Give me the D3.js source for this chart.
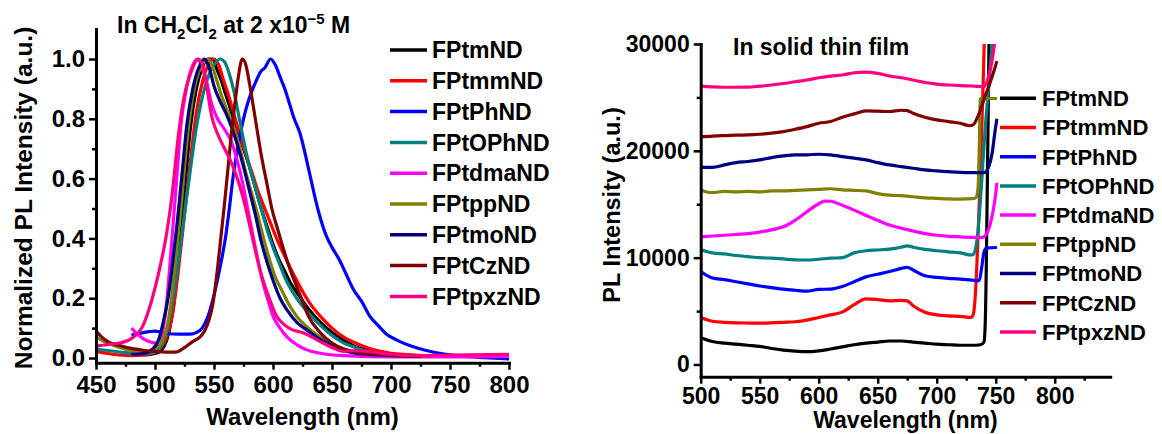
<!DOCTYPE html>
<html><head><meta charset="utf-8">
<script src="https://cdn.jsdelivr.net/npm/d3@7"></script>
<style>
html,body{margin:0;padding:0;background:#fff;}
svg text{font-family:"Liberation Sans",Arial,Helvetica,sans-serif;font-weight:bold;fill:#000;}
</style></head>
<body><svg id="c" width="1162" height="434"></svg>
<script>
// ---------- DATA ----------
const seriesNames = ["FPtmND","FPtmmND","FPtPhND","FPtOPhND","FPtdmaND","FPtppND","FPtmoND","FPtCzND","FPtpxzND"];
const seriesColors = ["#000000","#ff0000","#0000ff","#008080","#ff00ff","#808000","#000080","#800000","#ff0080"];

// Left panel: normalized PL in CH2Cl2  [wavelength nm, intensity]
const solFPtmND = [[480,0.01],[490,0.01],[500,0.015],[505,0.025],[510,0.06],[514,0.13],[518,0.25],[522,0.42],[526,0.6],[530,0.77],[535,0.9],[540,0.97],[545,1.0],[549,1.0],[552,0.97],[556,0.93],[560,0.88],[565,0.82],[570,0.76],[575,0.7],[580,0.64],[585,0.57],[590,0.5],[595,0.44],[600,0.38],[605,0.33],[610,0.29],[615,0.25],[620,0.22],[630,0.165],[640,0.12],[650,0.085],[660,0.058],[670,0.038],[680,0.026],[690,0.016],[700,0.011],[720,0.006],[750,0.005],[800,0.005]];
const solFPtmmND = [[450,0.022],[460,0.015],[470,0.01],[480,0.008],[490,0.01],[500,0.02],[505,0.035],[510,0.07],[515,0.15],[520,0.3],[525,0.48],[530,0.66],[535,0.82],[540,0.92],[545,0.98],[550,1.0],[554,0.98],[558,0.93],[563,0.87],[568,0.8],[573,0.73],[578,0.67],[583,0.61],[588,0.55],[593,0.5],[598,0.45],[603,0.4],[610,0.34],[620,0.26],[630,0.19],[640,0.14],[650,0.1],[660,0.07],[670,0.05],[680,0.034],[690,0.023],[700,0.016],[710,0.012],[720,0.01],[740,0.008],[760,0.007]];
const solFPtPhND = [[480,0.077],[485,0.08],[490,0.085],[495,0.088],[500,0.09],[505,0.087],[510,0.082],[520,0.08],[530,0.08],[535,0.085],[540,0.1],[545,0.14],[550,0.21],[555,0.3],[560,0.41],[563,0.5],[566,0.6],[570,0.7],[575,0.8],[580,0.87],[585,0.92],[590,0.96],[593,0.97],[598,1.0],[602,0.98],[606,0.94],[610,0.9],[614,0.85],[618,0.8],[623,0.75],[628,0.67],[632,0.6],[636,0.53],[640,0.47],[645,0.41],[650,0.37],[656,0.33],[662,0.28],[668,0.23],[675,0.19],[682,0.14],[690,0.105],[696,0.08],[705,0.06],[717,0.04],[730,0.025],[745,0.013],[760,0.006],[780,0.001],[800,-0.003]];
const solFPtOPhND = [[450,0.03],[460,0.025],[470,0.02],[480,0.016],[490,0.015],[500,0.02],[505,0.04],[510,0.09],[515,0.19],[520,0.33],[525,0.48],[530,0.63],[535,0.77],[540,0.87],[545,0.94],[550,0.98],[555,1.0],[559,0.99],[563,0.95],[567,0.89],[571,0.81],[575,0.73],[580,0.64],[585,0.57],[590,0.5],[595,0.43],[600,0.37],[605,0.32],[610,0.27],[620,0.2],[630,0.15],[640,0.11],[650,0.075],[660,0.05],[670,0.035],[680,0.022],[690,0.015],[700,0.01],[720,0.006],[740,0.005]];
const solFPtdmaND = [[480,0.1],[485,0.08],[490,0.065],[495,0.055],[500,0.05],[504,0.06],[507,0.1],[510,0.19],[513,0.33],[516,0.48],[519,0.63],[522,0.78],[526,0.89],[531,0.97],[536,1.0],[540,0.97],[544,0.92],[548,0.85],[553,0.8],[558,0.77],[564,0.73],[569,0.67],[574,0.59],[578,0.51],[582,0.43],[586,0.35],[591,0.26],[596,0.19],[600,0.14],[606,0.1],[612,0.07],[620,0.045],[628,0.028],[640,0.016],[660,0.008],[700,0.004],[750,0.004],[800,0.005]];
const solFPtppND = [[450,0.07],[460,0.05],[470,0.035],[480,0.025],[490,0.02],[500,0.03],[505,0.05],[510,0.1],[514,0.2],[518,0.35],[522,0.5],[526,0.68],[530,0.82],[535,0.93],[540,0.98],[545,1.0],[549,0.97],[553,0.92],[557,0.87],[562,0.82],[567,0.77],[572,0.7],[577,0.62],[582,0.55],[587,0.48],[592,0.4],[597,0.33],[602,0.27],[607,0.23],[612,0.19],[620,0.14],[630,0.1],[640,0.07],[650,0.045],[660,0.03],[670,0.02],[690,0.01],[720,0.006]];
const solFPtmoND = [[480,0.012],[490,0.015],[498,0.03],[503,0.06],[507,0.12],[511,0.2],[515,0.32],[519,0.46],[523,0.62],[527,0.78],[532,0.9],[537,0.97],[542,1.0],[546,0.97],[550,0.91],[555,0.86],[560,0.82],[566,0.76],[570,0.71],[575,0.64],[580,0.56],[585,0.48],[590,0.39],[595,0.32],[600,0.26],[606,0.2],[612,0.16],[620,0.12],[630,0.09],[640,0.062],[650,0.04],[660,0.024],[670,0.016],[690,0.01],[720,0.005]];
const solFPtCzND = [[450,0.09],[455,0.07],[460,0.055],[470,0.042],[480,0.032],[490,0.026],[500,0.022],[510,0.02],[518,0.02],[525,0.035],[532,0.055],[538,0.07],[542,0.09],[546,0.13],[549,0.18],[553,0.3],[556,0.41],[559,0.52],[562,0.64],[565,0.76],[568,0.86],[571,0.95],[574,1.0],[577,0.98],[580,0.92],[585,0.8],[590,0.68],[595,0.58],[599,0.5],[604,0.43],[610,0.35],[615,0.29],[620,0.24],[625,0.19],[630,0.14],[640,0.085],[650,0.05],[660,0.03],[670,0.02],[680,0.015],[700,0.01],[726,0.005]];
const solFPtpxzND = [[450,0.04],[460,0.045],[470,0.05],[480,0.065],[490,0.11],[497,0.19],[504,0.3],[510,0.42],[514,0.53],[520,0.75],[524,0.86],[530,0.95],[537,1.0],[541,0.97],[545,0.88],[548,0.81],[553,0.75],[559,0.7],[564,0.66],[568,0.62],[573,0.56],[577,0.5],[581,0.43],[585,0.36],[590,0.28],[595,0.22],[603,0.14],[610,0.11],[616,0.095],[625,0.085],[634,0.068],[640,0.055],[650,0.035],[660,0.022],[670,0.025],[680,0.022],[700,0.012],[720,0.008],[750,0.01],[800,0.012]];

// Right panel: PL intensity in solid thin film [wavelength nm, counts]
const filmFPtmND = [[500,2500],[510,2150],[520,2000],[530,1900],[540,1800],[550,1700],[560,1500],[570,1350],[580,1250],[590,1200],[600,1280],[610,1450],[620,1650],[630,1850],[640,2000],[650,2100],[660,2200],[670,2200],[680,2100],[690,2000],[700,1900],[710,1850],[720,1800],[730,1800],[737,1850],[740,2100],[741,3500],[742,9000],[743,18000],[744,27000],[744.5,32000]];
const filmFPtmmND = [[500,4400],[510,4050],[520,3950],[530,3900],[540,3880],[550,3870],[560,3900],[570,3950],[580,4000],[590,4150],[600,4400],[610,4650],[620,4900],[630,5600],[640,6150],[650,6080],[660,5950],[670,6000],[675,5950],[680,5500],[690,4900],[700,4650],[710,4550],[720,4500],[729,4400],[731,4700],[733,7000],[735,12000],[737,18000],[739,25000],[740.5,31000]];
const filmFPtPhND = [[500,8700],[510,8100],[520,7950],[530,7750],[540,7550],[550,7350],[560,7200],[570,7050],[580,6950],[590,6870],[600,7030],[610,7060],[620,7300],[630,7750],[640,8200],[650,8450],[660,8700],[670,9000],[675,9100],[680,8850],[690,8300],[700,8150],[710,8070],[720,8000],[730,7900],[736,7850],[738,9000],[740,10500],[742,10900],[751,10950]];
const filmFPtOPhND = [[500,10750],[510,10450],[520,10350],[530,10200],[540,10100],[550,10000],[560,9950],[570,9880],[580,9800],[590,9780],[600,9850],[610,9950],[620,10000],[630,10450],[640,10650],[650,10720],[660,10800],[670,10980],[675,11100],[680,10980],[690,10780],[700,10650],[710,10550],[720,10450],[729,10250],[731,10300],[733,10900],[735,12500],[738,17000],[741,22000],[744,26000],[747,30000],[748,31000]];
const filmFPtdmaND = [[500,11950],[520,12100],[540,12250],[560,12600],[570,12900],[580,13500],[590,14300],[600,15050],[605,15300],[610,15280],[620,14900],[630,14450],[640,13950],[650,13500],[660,13050],[670,12750],[680,12500],[690,12250],[700,12100],[710,12000],[720,11950],[730,11900],[739,11900],[742,12200],[745,13000],[748,14500],[750,16000],[751,17000]];
const filmFPtppND = [[500,16400],[505,16150],[510,16100],[520,16200],[530,16150],[540,16200],[550,16150],[560,16250],[570,16250],[580,16300],[590,16350],[600,16400],[610,16450],[620,16350],[630,16300],[640,16250],[650,16000],[660,15850],[670,15800],[680,15700],[690,15600],[700,15550],[710,15500],[720,15480],[730,15520],[733,15600],[735,16500],[736,20000],[737,24900],[751,24900]];
const filmFPtmoND = [[500,18500],[505,18450],[510,18450],[520,18680],[530,18900],[540,19000],[550,19150],[560,19370],[570,19520],[580,19620],[590,19630],[600,19680],[610,19620],[620,19460],[630,19310],[640,19150],[650,18900],[660,18680],[670,18520],[680,18370],[690,18210],[700,18120],[710,18050],[720,17990],[730,17960],[740,17950],[742,18100],[744,18500],[747,19800],[749,21500],[751,23000]];
const filmFPtCzND = [[500,21300],[510,21380],[520,21430],[530,21470],[540,21490],[550,21550],[560,21650],[570,21800],[580,22020],[590,22270],[600,22580],[610,22740],[620,23150],[630,23460],[640,23740],[650,23710],[660,23680],[670,23800],[675,23770],[680,23520],[690,23150],[700,22900],[710,22740],[720,22580],[728,22350],[731,22450],[734,23000],[737,23800],[740,24800],[744,26000],[748,27300],[751,28400]];
const filmFPtpxzND = [[500,26050],[510,25980],[520,25950],[530,25950],[540,25960],[550,26050],[560,26160],[570,26300],[580,26470],[590,26630],[600,26840],[610,27000],[620,27100],[630,27310],[640,27370],[650,27250],[660,27000],[670,26840],[680,26630],[690,26400],[700,26250],[710,26160],[720,26100],[730,26070],[740,26000],[744,27000],[747,28500],[749.5,30500]];

const solSeries = [solFPtmND,solFPtmmND,solFPtPhND,solFPtOPhND,solFPtdmaND,solFPtppND,solFPtmoND,solFPtCzND,solFPtpxzND];
const filmSeries = [filmFPtmND,filmFPtmmND,filmFPtPhND,filmFPtOPhND,filmFPtdmaND,filmFPtppND,filmFPtmoND,filmFPtCzND,filmFPtpxzND];

const leftXTicks = [450,500,550,600,650,700,750,800];
const leftXMinor = [475,525,575,625,675,725,775];
const leftYTicks = [0,0.2,0.4,0.6,0.8,1.0];
const leftYMinor = [0.1,0.3,0.5,0.7,0.9];
const rightXTicks = [500,550,600,650,700,750,800];
const rightXMinor = [525,575,625,675,725,775,825];
const rightYTicks = [0,10000,20000,30000];
const rightYMinor = [5000,15000,25000];

// ---------- DRAW ----------
const svg = d3.select("#c");
const defs = svg.append("defs");

function styleAxis(g, major){
  g.select(".domain").attr("stroke","#000").attr("stroke-width",3).attr("stroke-linecap","square");
  g.selectAll(".tick line").attr("stroke","#000").attr("stroke-width",2.5);
  if(!major) g.select(".domain").remove();
}

function panel(cfg){
  const x = d3.scaleLinear().domain(cfg.xDom).range(cfg.xRange);
  const y = d3.scaleLinear().domain(cfg.yDom).range(cfg.yRange);
  const clipId = cfg.id+"clip";
  defs.append("clipPath").attr("id",clipId).append("rect")
    .attr("x",cfg.xRange[0]).attr("y",cfg.yRange[1])
    .attr("width",cfg.xRange[1]-cfg.xRange[0]).attr("height",cfg.yRange[0]-cfg.yRange[1]);
  const line = d3.line().x(d=>x(d[0])).y(d=>y(d[1])).curve(d3.curveMonotoneX);
  const gl = svg.append("g").attr("clip-path",`url(#${clipId})`);
  cfg.series.forEach((s,i)=>{
    gl.append("path").datum(s).attr("d",line).attr("fill","none")
      .attr("stroke",seriesColors[i]).attr("stroke-width",3.2).attr("stroke-linejoin","round");
  });
  // axes
  const xa = svg.append("g").attr("transform",`translate(0,${cfg.yRange[0]})`)
    .call(d3.axisBottom(x).tickValues(cfg.xTicks).tickSize(7).tickSizeOuter(0).tickPadding(cfg.xPad).tickFormat(d3.format("d")));
  styleAxis(xa,true);
  xa.selectAll("text").attr("font-size",cfg.tickFont).attr("fill","#000");
  const xm = svg.append("g").attr("transform",`translate(0,${cfg.yRange[0]})`)
    .call(d3.axisBottom(x).tickValues(cfg.xMinor).tickSize(4).tickSizeOuter(0).tickFormat(""));
  styleAxis(xm,false);
  const ya = svg.append("g").attr("transform",`translate(${cfg.xRange[0]},0)`)
    .call(d3.axisLeft(y).tickValues(cfg.yTicks).tickSize(7).tickSizeOuter(0).tickPadding(cfg.yPad).tickFormat(cfg.yFmt));
  styleAxis(ya,true);
  ya.selectAll("text").attr("font-size",cfg.tickFont).attr("fill","#000");
  const ym = svg.append("g").attr("transform",`translate(${cfg.xRange[0]},0)`)
    .call(d3.axisLeft(y).tickValues(cfg.yMinor).tickSize(4).tickSizeOuter(0).tickFormat(""));
  styleAxis(ym,false);
  svg.selectAll("g").attr("font-family",null);
  // legend
  const lg = svg.append("g");
  seriesNames.forEach((n,i)=>{
    const yy = cfg.legY0 + i*cfg.legDy;
    lg.append("line").attr("x1",cfg.legX).attr("x2",cfg.legX+cfg.legLen).attr("y1",yy).attr("y2",yy)
      .attr("stroke",seriesColors[i]).attr("stroke-width",3.5);
    lg.append("text").attr("x",cfg.legX+cfg.legLen+cfg.legGap).attr("y",yy).attr("dy","0.36em")
      .attr("font-size",cfg.legFont).text(n);
  });
  // axis titles
  svg.append("text").attr("x",(cfg.xRange[0]+cfg.xRange[1])/2).attr("y",cfg.xLabY)
    .attr("text-anchor","middle").attr("font-size",cfg.labFont).text("Wavelength (nm)");
  svg.append("text").attr("transform",`translate(${cfg.yLabX},${cfg.yLabCY}) rotate(-90)`)
    .attr("text-anchor","middle").attr("font-size",cfg.yLabFont).text(cfg.yLab);
  return {x,y};
}

panel({id:"L", xDom:[450,800], xRange:[96,509], yDom:[-0.0157,1.1], yRange:[362.7,29.1],
  series:solSeries, xTicks:leftXTicks, xMinor:leftXMinor, yTicks:leftYTicks, yMinor:leftYMinor,
  yFmt:d3.format(".1f"), tickFont:24, xPad:6, yPad:4,
  legX:390, legLen:37, legGap:5, legY0:50, legDy:30.8, legFont:23,
  xLabY:425, labFont:24, yLabX:32, yLabCY:198, yLabFont:24.5, yLab:"Normalized PL Intensity (a.u.)"});

panel({id:"R", xDom:[500,847], xRange:[700.7,1110.2], yDom:[-1142,30000], yRange:[376.7,44],
  series:filmSeries, xTicks:rightXTicks, xMinor:rightXMinor, yTicks:rightYTicks, yMinor:rightYMinor,
  yFmt:d3.format("d"), tickFont:23, xPad:4, yPad:4,
  legX:1000, legLen:36, legGap:6, legY0:98.3, legDy:29.2, legFont:22,
  xLabY:428, labFont:23, yLabX:620, yLabCY:205, yLabFont:23.5, yLab:"PL Intensity (a.u.)"});

// titles
const t1 = svg.append("text").attr("x",117).attr("y",33).attr("font-size",23);
t1.append("tspan").text("In CH");
t1.append("tspan").attr("dy",6).attr("font-size",15).text("2");
t1.append("tspan").attr("dy",-6).text("Cl");
t1.append("tspan").attr("dy",6).attr("font-size",15).text("2");
t1.append("tspan").attr("dy",-6).text(" at 2 x10");
t1.append("tspan").attr("dy",-9).attr("font-size",15).text("\u22125");
t1.append("tspan").attr("dy",9).text(" M");

svg.append("text").attr("x",733).attr("y",55).attr("font-size",23).text("In solid thin film");
</script></body></html>
